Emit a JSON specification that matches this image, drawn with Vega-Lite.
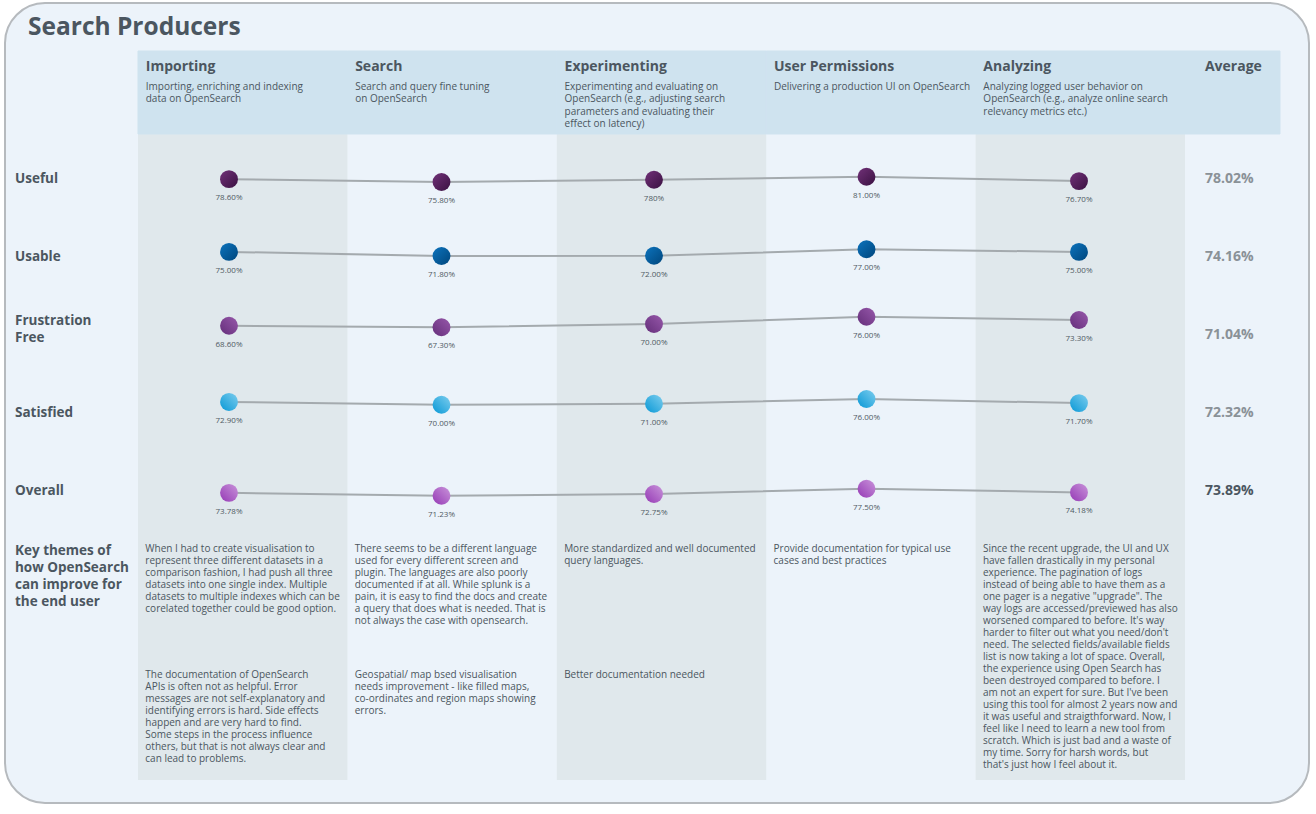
{
  "$schema": "https://vega.github.io/schema/vega-lite/v6.json",
  "width": 1316,
  "height": 814,
  "autosize": {"type": "fit", "contains": "padding"},
  "padding": {"left": 5, "top": 3, "right": 7, "bottom": 11},
  "background": "#ffffff",
  "config": {
    "font": "Open Sans",
    "view": {"fill": "#ecf3fa", "stroke": "#b6babe", "strokeWidth": 2, "cornerRadius": 40}
  },
  "datasets": {
    "stages": [
      {"stage": "Importing", "desc": "Importing, enriching and indexing\ndata on OpenSearch"},
      {"stage": "Search", "desc": "Search and query fine tuning\non OpenSearch"},
      {"stage": "Experimenting", "desc": "Experimenting and evaluating on\nOpenSearch (e.g., adjusting search\nparameters and evaluating their\neffect on latency)"},
      {"stage": "User Permissions", "desc": "Delivering a production UI on OpenSearch"},
      {"stage": "Analyzing", "desc": "Analyzing logged user behavior on\nOpenSearch (e.g., analyze online search\nrelevancy metrics etc.)"}
    ],
    "scores": [
      {"metric": "Useful", "stage": "Importing", "value": 78.6, "label": "78.60%"},
      {"metric": "Useful", "stage": "Search", "value": 75.8, "label": "75.80%"},
      {"metric": "Useful", "stage": "Experimenting", "value": 78.0, "label": "780%"},
      {"metric": "Useful", "stage": "User Permissions", "value": 81.0, "label": "81.00%"},
      {"metric": "Useful", "stage": "Analyzing", "value": 76.7, "label": "76.70%"},
      {"metric": "Usable", "stage": "Importing", "value": 75.0, "label": "75.00%"},
      {"metric": "Usable", "stage": "Search", "value": 71.8, "label": "71.80%"},
      {"metric": "Usable", "stage": "Experimenting", "value": 72.0, "label": "72.00%"},
      {"metric": "Usable", "stage": "User Permissions", "value": 77.0, "label": "77.00%"},
      {"metric": "Usable", "stage": "Analyzing", "value": 75.0, "label": "75.00%"},
      {"metric": "Frustration Free", "stage": "Importing", "value": 68.6, "label": "68.60%"},
      {"metric": "Frustration Free", "stage": "Search", "value": 67.3, "label": "67.30%"},
      {"metric": "Frustration Free", "stage": "Experimenting", "value": 70.0, "label": "70.00%"},
      {"metric": "Frustration Free", "stage": "User Permissions", "value": 76.0, "label": "76.00%"},
      {"metric": "Frustration Free", "stage": "Analyzing", "value": 73.3, "label": "73.30%"},
      {"metric": "Satisfied", "stage": "Importing", "value": 72.9, "label": "72.90%"},
      {"metric": "Satisfied", "stage": "Search", "value": 70.0, "label": "70.00%"},
      {"metric": "Satisfied", "stage": "Experimenting", "value": 71.0, "label": "71.00%"},
      {"metric": "Satisfied", "stage": "User Permissions", "value": 76.0, "label": "76.00%"},
      {"metric": "Satisfied", "stage": "Analyzing", "value": 71.7, "label": "71.70%"},
      {"metric": "Overall", "stage": "Importing", "value": 73.78, "label": "73.78%"},
      {"metric": "Overall", "stage": "Search", "value": 71.23, "label": "71.23%"},
      {"metric": "Overall", "stage": "Experimenting", "value": 72.75, "label": "72.75%"},
      {"metric": "Overall", "stage": "User Permissions", "value": 77.5, "label": "77.50%"},
      {"metric": "Overall", "stage": "Analyzing", "value": 74.18, "label": "74.18%"}
    ],
    "averages": [
      {"metric": "Useful", "average": 78.02, "label": "78.02%"},
      {"metric": "Usable", "average": 74.16, "label": "74.16%"},
      {"metric": "Frustration Free", "average": 71.04, "label": "71.04%"},
      {"metric": "Satisfied", "average": 72.32, "label": "72.32%"},
      {"metric": "Overall", "average": 73.89, "label": "73.89%"}
    ],
    "themes": [
      {"stage": "Importing", "slot": "t1", "text": "When I had to create visualisation to\nrepresent three different datasets in a\ncomparison fashion, I had push all three\ndatasets into one single index. Multiple\ndatasets to multiple indexes which can be\ncorelated together could be good option."},
      {"stage": "Importing", "slot": "t2", "text": "The documentation of OpenSearch\nAPIs is often not as helpful. Error\nmessages are not self-explanatory and\nidentifying errors is hard. Side effects\nhappen and are very hard to find.\nSome steps in the process influence\nothers, but that is not always clear and\ncan lead to problems."},
      {"stage": "Search", "slot": "t1", "text": "There seems to be a different language\nused for every different screen and\nplugin. The languages are also poorly\ndocumented if at all. While splunk is a\npain, it is easy to find the docs and create\na query that does what is needed. That is\nnot always the case with opensearch."},
      {"stage": "Search", "slot": "t2", "text": "Geospatial/ map bsed visualisation\nneeds improvement - like filled maps,\nco-ordinates and region maps showing\nerrors."},
      {"stage": "Experimenting", "slot": "t1", "text": "More standardized and well documented\nquery languages."},
      {"stage": "Experimenting", "slot": "t2", "text": "Better documentation needed"},
      {"stage": "User Permissions", "slot": "t1", "text": "Provide documentation for typical use\ncases and best practices"},
      {"stage": "Analyzing", "slot": "t1", "text": "Since the recent upgrade, the UI and UX\nhave fallen drastically in my personal\nexperience.  The pagination of logs\ninstead of being able to have them as a\none pager is a negative \"upgrade\". The\nway logs are accessed/previewed has also\nworsened compared to before. It's way\nharder to filter out what you need/don't\nneed.  The selected fields/available fields\nlist is now taking a lot of space.  Overall,\nthe experience using Open Search has\nbeen destroyed compared to before.  I\nam not an expert for sure. But I've been\nusing this tool for almost 2 years now and\nit was useful and straigthforward. Now, I\nfeel like I need to learn a new tool from\nscratch. Which is just bad and a waste of\nmy time.  Sorry for harsh words, but\nthat's just how I feel about it."}
    ]
  },
  "layer": [
    {
      "data": {"values": [{"title": "Search Producers"}]},
      "mark": {"type": "text", "align": "left", "baseline": "alphabetic", "fontSize": 24.5, "fontWeight": "bold", "color": "#4b5660"},
      "encoding": {
        "x": {"field": "title", "type": "nominal", "scale": {"type": "point", "domain": ["Search Producers"], "range": [23, 23], "padding": 0}, "axis": null},
        "y": {"field": "title", "type": "nominal", "scale": {"type": "point", "domain": ["Search Producers"], "range": [31.5, 31.5], "padding": 0}, "axis": null},
        "text": {"field": "title"}
      }
    },
    {
      "data": {"name": "stages"},
      "transform": [{"filter": {"field": "stage", "oneOf": ["Importing", "Experimenting", "Analyzing"]}}],
      "mark": {"type": "rect", "fill": "#e0e8ec"},
      "encoding": {
        "x": {"field": "stage", "type": "nominal", "scale": {"type": "band", "domain": ["Importing", "Search", "Experimenting", "User Permissions", "Analyzing"], "range": [133, 1180], "paddingInner": 0, "paddingOuter": 0}, "axis": null},
        "y": {"datum": "body", "type": "nominal", "scale": {"type": "band", "domain": ["body"], "range": [131, 777], "paddingInner": 0, "paddingOuter": 0}, "axis": null}
      }
    },
    {
      "data": {"name": "stages"},
      "layer": [
        {
          "mark": {"type": "rect", "fill": "#cfe3ef", "stroke": "#cfe3ef", "strokeWidth": 1},
          "encoding": {
            "x": {"field": "stage", "type": "nominal", "scale": {"type": "band", "domain": ["Importing", "Search", "Experimenting", "User Permissions", "Analyzing"], "range": [133, 1180], "paddingInner": 0, "paddingOuter": 0}, "axis": null},
            "y": {"datum": "hdr", "type": "nominal", "scale": {"type": "band", "domain": ["hdr"], "range": [48, 131], "paddingInner": 0, "paddingOuter": 0}, "axis": null}
          }
        },
        {
          "mark": {"type": "text", "align": "left", "baseline": "middle", "fontSize": 14, "fontWeight": "bold", "color": "#4b5660"},
          "encoding": {
            "x": {"field": "stage", "type": "nominal", "bandPosition": 0.037, "scale": {"type": "band", "domain": ["Importing", "Search", "Experimenting", "User Permissions", "Analyzing"], "range": [133, 1180], "paddingInner": 0, "paddingOuter": 0}, "axis": null},
            "y": {"datum": "hdr", "type": "nominal", "bandPosition": 0.19, "scale": {"type": "band", "domain": ["hdr"], "range": [48, 131], "paddingInner": 0, "paddingOuter": 0}, "axis": null},
            "text": {"field": "stage"}
          }
        },
        {
          "mark": {"type": "text", "align": "left", "baseline": "top", "fontSize": 10, "lineHeight": 12.3, "lineBreak": "\n", "color": "#4b5660"},
          "encoding": {
            "x": {"field": "stage", "type": "nominal", "bandPosition": 0.037, "scale": {"type": "band", "domain": ["Importing", "Search", "Experimenting", "User Permissions", "Analyzing"], "range": [133, 1180], "paddingInner": 0, "paddingOuter": 0}, "axis": null},
            "y": {"datum": "hdr", "type": "nominal", "bandPosition": 0.375, "scale": {"type": "band", "domain": ["hdr"], "range": [48, 131], "paddingInner": 0, "paddingOuter": 0}, "axis": null},
            "text": {"field": "desc"}
          }
        }
      ]
    },
    {
      "data": {"values": [{"column": "Average"}]},
      "layer": [
        {
          "mark": {"type": "rect", "fill": "#cfe3ef", "stroke": "#cfe3ef", "strokeWidth": 1},
          "encoding": {
            "x": {"field": "column", "type": "nominal", "scale": {"type": "band", "domain": ["Average"], "range": [1180, 1275], "paddingInner": 0, "paddingOuter": 0}, "axis": null},
            "y": {"datum": "hdr", "type": "nominal", "scale": {"type": "band", "domain": ["hdr"], "range": [48, 131], "paddingInner": 0, "paddingOuter": 0}, "axis": null}
          }
        },
        {
          "mark": {"type": "text", "align": "left", "baseline": "middle", "fontSize": 14, "fontWeight": "bold", "color": "#4b5660"},
          "encoding": {
            "x": {"field": "column", "type": "nominal", "bandPosition": 0.21, "scale": {"type": "band", "domain": ["Average"], "range": [1180, 1275], "paddingInner": 0, "paddingOuter": 0}, "axis": null},
            "y": {"datum": "hdr", "type": "nominal", "bandPosition": 0.19, "scale": {"type": "band", "domain": ["hdr"], "range": [48, 131], "paddingInner": 0, "paddingOuter": 0}, "axis": null},
            "text": {"field": "column"}
          }
        }
      ]
    },
    {
      "data": {"name": "themes"},
      "mark": {"type": "text", "align": "left", "baseline": "top", "fontSize": 10, "lineHeight": 12.05, "lineBreak": "\n", "color": "#4b5660"},
      "encoding": {
        "x": {"field": "stage", "type": "nominal", "bandPosition": 0.035, "scale": {"type": "band", "domain": ["Importing", "Search", "Experimenting", "User Permissions", "Analyzing"], "range": [133, 1180], "paddingInner": 0, "paddingOuter": 0}, "axis": null},
        "y": {"field": "slot", "type": "nominal", "scale": {"type": "point", "domain": ["t1", "t2"], "range": [540.5, 666.5], "padding": 0}, "axis": null},
        "text": {"field": "text"}
      }
    },
    {
      "layer": [
        {
          "data": {"name": "averages"},
          "transform": [{"filter": {"not": {"field": "metric", "equal": "Frustration Free"}}}],
          "mark": {"type": "text", "align": "left", "baseline": "middle", "fontSize": 13.5, "fontWeight": "bold", "color": "#4b5660"},
          "encoding": {
            "x": {"datum": "label", "type": "nominal", "scale": {"type": "point", "domain": ["label", "avg"], "range": [10, 1200], "padding": 0}, "axis": null},
            "y": {"field": "metric", "type": "nominal", "scale": {"type": "point", "domain": ["Useful", "Usable", "Frustration Free", "Satisfied", "Overall", "Key themes"], "range": [176, 566.6], "padding": 0}, "axis": null},
            "text": {"field": "metric"}
          }
        },
        {
          "data": {"name": "averages"},
          "transform": [{"filter": {"field": "metric", "equal": "Frustration Free"}}],
          "mark": {"type": "text", "align": "left", "baseline": "middle", "fontSize": 13.5, "fontWeight": "bold", "lineHeight": 17, "lineBreak": " ", "color": "#4b5660", "dy": -14.3},
          "encoding": {
            "x": {"datum": "label", "type": "nominal", "scale": {"type": "point", "domain": ["label", "avg"], "range": [10, 1200], "padding": 0}, "axis": null},
            "y": {"field": "metric", "type": "nominal", "scale": {"type": "point", "domain": ["Useful", "Usable", "Frustration Free", "Satisfied", "Overall", "Key themes"], "range": [176, 566.6], "padding": 0}, "axis": null},
            "text": {"field": "metric"}
          }
        },
        {
          "data": {"name": "averages"},
          "mark": {"type": "text", "align": "left", "baseline": "middle", "fontSize": 14, "fontWeight": "bold"},
          "encoding": {
            "x": {"datum": "avg", "type": "nominal", "scale": {"type": "point", "domain": ["label", "avg"], "range": [10, 1200], "padding": 0}, "axis": null},
            "y": {"field": "metric", "type": "nominal", "scale": {"type": "point", "domain": ["Useful", "Usable", "Frustration Free", "Satisfied", "Overall", "Key themes"], "range": [176, 566.6], "padding": 0}, "axis": null},
            "text": {"field": "label"},
            "color": {"condition": {"test": "datum.metric === 'Overall'", "value": "#4b5660"}, "value": "#8a9197"}
          }
        },
        {
          "data": {"values": [{"row": "Key themes of\nhow OpenSearch\ncan improve for\nthe end user"}]},
          "mark": {"type": "text", "align": "left", "baseline": "middle", "fontSize": 13.5, "fontWeight": "bold", "lineHeight": 17, "lineBreak": "\n", "color": "#4b5660", "dy": -18.6},
          "encoding": {
            "x": {"datum": "label", "type": "nominal", "scale": {"type": "point", "domain": ["label", "avg"], "range": [10, 1200], "padding": 0}, "axis": null},
            "y": {"datum": "Key themes", "type": "nominal", "scale": {"type": "point", "domain": ["Useful", "Usable", "Frustration Free", "Satisfied", "Overall", "Key themes"], "range": [176, 566.6], "padding": 0}, "axis": null},
            "text": {"field": "row"}
          }
        }
      ]
    },
    {
      "data": {"name": "scores"},
      "transform": [{"filter": {"field": "metric", "equal": "Useful"}}],
      "encoding": {
        "x": {"field": "stage", "type": "nominal", "scale": {"type": "point", "domain": ["Importing", "Search", "Experimenting", "User Permissions", "Analyzing"], "range": [224, 1074], "padding": 0}, "axis": null},
        "y": {"field": "value", "type": "quantitative", "scale": {"domain": [75.8, 81], "range": [179, 173.7], "zero": false, "nice": false}, "axis": null}
      },
      "layer": [
        {"mark": {"type": "line", "color": "#a4aaae", "strokeWidth": 2}, "encoding": {"order": {"value": null}}},
        {"mark": {"type": "point", "shape": "circle", "filled": true, "size": 320, "opacity": 1, "strokeWidth": 0, "fill": {"gradient": "linear", "x1": 0, "y1": 0, "x2": 1, "y2": 1, "stops": [{"offset": 0, "color": "#713178"}, {"offset": 1, "color": "#3a1141"}]}}},
        {"mark": {"type": "text", "dy": 19, "fontSize": 8, "color": "#4f5a63"}, "encoding": {"text": {"field": "label"}}}
      ]
    },
    {
      "data": {"name": "scores"},
      "transform": [{"filter": {"field": "metric", "equal": "Usable"}}],
      "encoding": {
        "x": {"field": "stage", "type": "nominal", "scale": {"type": "point", "domain": ["Importing", "Search", "Experimenting", "User Permissions", "Analyzing"], "range": [224, 1074], "padding": 0}, "axis": null},
        "y": {"field": "value", "type": "quantitative", "scale": {"domain": [71.8, 77], "range": [253, 246.3], "zero": false, "nice": false}, "axis": null}
      },
      "layer": [
        {"mark": {"type": "line", "color": "#a4aaae", "strokeWidth": 2}, "encoding": {"order": {"value": null}}},
        {"mark": {"type": "point", "shape": "circle", "filled": true, "size": 320, "opacity": 1, "strokeWidth": 0, "fill": {"gradient": "linear", "x1": 0, "y1": 0, "x2": 1, "y2": 1, "stops": [{"offset": 0, "color": "#0c73bd"}, {"offset": 1, "color": "#00467c"}]}}},
        {"mark": {"type": "text", "dy": 19, "fontSize": 8, "color": "#4f5a63"}, "encoding": {"text": {"field": "label"}}}
      ]
    },
    {
      "data": {"name": "scores"},
      "transform": [{"filter": {"field": "metric", "equal": "Frustration Free"}}],
      "encoding": {
        "x": {"field": "stage", "type": "nominal", "scale": {"type": "point", "domain": ["Importing", "Search", "Experimenting", "User Permissions", "Analyzing"], "range": [224, 1074], "padding": 0}, "axis": null},
        "y": {"field": "value", "type": "quantitative", "scale": {"domain": [67.3, 76], "range": [324.3, 313.7], "zero": false, "nice": false}, "axis": null}
      },
      "layer": [
        {"mark": {"type": "line", "color": "#a4aaae", "strokeWidth": 2}, "encoding": {"order": {"value": null}}},
        {"mark": {"type": "point", "shape": "circle", "filled": true, "size": 320, "opacity": 1, "strokeWidth": 0, "fill": {"gradient": "linear", "x1": 0, "y1": 1, "x2": 1, "y2": 0, "stops": [{"offset": 0, "color": "#642e7a"}, {"offset": 1, "color": "#9758aa"}]}}},
        {"mark": {"type": "text", "dy": 19, "fontSize": 8, "color": "#4f5a63"}, "encoding": {"text": {"field": "label"}}}
      ]
    },
    {
      "data": {"name": "scores"},
      "transform": [{"filter": {"field": "metric", "equal": "Satisfied"}}],
      "encoding": {
        "x": {"field": "stage", "type": "nominal", "scale": {"type": "point", "domain": ["Importing", "Search", "Experimenting", "User Permissions", "Analyzing"], "range": [224, 1074], "padding": 0}, "axis": null},
        "y": {"field": "value", "type": "quantitative", "scale": {"domain": [70, 76], "range": [401.7, 396], "zero": false, "nice": false}, "axis": null}
      },
      "layer": [
        {"mark": {"type": "line", "color": "#a4aaae", "strokeWidth": 2}, "encoding": {"order": {"value": null}}},
        {"mark": {"type": "point", "shape": "circle", "filled": true, "size": 320, "opacity": 1, "strokeWidth": 0, "fill": {"gradient": "linear", "x1": 0, "y1": 1, "x2": 1, "y2": 0, "stops": [{"offset": 0, "color": "#0898d6"}, {"offset": 1, "color": "#7dcdee"}]}}},
        {"mark": {"type": "text", "dy": 19, "fontSize": 8, "color": "#4f5a63"}, "encoding": {"text": {"field": "label"}}}
      ]
    },
    {
      "data": {"name": "scores"},
      "transform": [{"filter": {"field": "metric", "equal": "Overall"}}],
      "encoding": {
        "x": {"field": "stage", "type": "nominal", "scale": {"type": "point", "domain": ["Importing", "Search", "Experimenting", "User Permissions", "Analyzing"], "range": [224, 1074], "padding": 0}, "axis": null},
        "y": {"field": "value", "type": "quantitative", "scale": {"domain": [71.23, 77.5], "range": [492.7, 485.7], "zero": false, "nice": false}, "axis": null}
      },
      "layer": [
        {"mark": {"type": "line", "color": "#a4aaae", "strokeWidth": 2}, "encoding": {"order": {"value": null}}},
        {"mark": {"type": "point", "shape": "circle", "filled": true, "size": 320, "opacity": 1, "strokeWidth": 0, "fill": {"gradient": "linear", "x1": 0, "y1": 1, "x2": 1, "y2": 0, "stops": [{"offset": 0, "color": "#9539b5"}, {"offset": 1, "color": "#c994da"}]}}},
        {"mark": {"type": "text", "dy": 19, "fontSize": 8, "color": "#4f5a63"}, "encoding": {"text": {"field": "label"}}}
      ]
    }
  ],
  "resolve": {"scale": {"x": "independent", "y": "independent"}}
}
